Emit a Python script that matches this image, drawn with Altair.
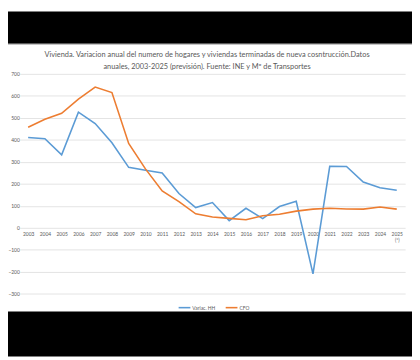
import altair as alt
import pandas as pd

years = [str(y) for y in range(2003, 2026)]
variac_hh = [411, 405, 332, 526, 474, 387, 275, 262, 249, 156, 92, 115, 33, 89, 42, 97, 121, -209, 280, 279, 208, 182, 171]
cfo = [457, 494, 521, 585, 640, 615, 384, 268, 168, 119, 64, 49, 43, 37, 55, 62, 76, 85, 89, 86, 85, 95, 85]
series_names = ["Variac. HH", "CFO"]
series_colors = ["#5B9BD5", "#ED7D31"]
title_lines = [
    "Vivienda. Variacion anual del numero de hogares y viviendas terminadas de nueva cosntrucción.Datos",
    "anuales, 2003-2025 (previsión). Fuente: INE y Mº de Transportes",
]

rows = []
for i, y in enumerate(years):
    rows.append({"year": y, "serie": series_names[0], "value": variac_hh[i]})
    rows.append({"year": y, "serie": series_names[1], "value": cfo[i]})
df = pd.DataFrame(rows)

FONT = "Lato"
GRAY = "#595959"
LEFT = 12
PLOT_W = 393
TOP = 63.7
PLOT_H = 224.3

x_enc = alt.X(
    "year:O",
    sort=years,
    scale=alt.Scale(type="point", padding=0.5),
    axis=alt.Axis(
        title=None, domain=False, ticks=False, grid=False, labelAngle=0,
        labelFontSize=5, labelColor=GRAY, labelFont=FONT, labelPadding=4,
        offset=-67.3, labelLineHeight=6,
        labelExpr="datum.value == '2025' ? ['2025', '(*)'] : datum.label",
    ),
)
y_enc = alt.Y(
    "value:Q",
    scale=alt.Scale(domain=[-300, 700], nice=False, zero=False),
    axis=alt.Axis(
        title=None, domain=False, ticks=False, values=list(range(-300, 701, 100)),
        grid=True, gridColor="#e3e3e3", gridWidth=1,
        labelFontSize=5, labelColor=GRAY, labelFont=FONT, labelPadding=0.5,
    ),
)

lines = alt.Chart(df).mark_line(strokeWidth=1.6).encode(
    x=x_enc,
    y=y_enc,
    color=alt.Color(
        "serie:N",
        sort=series_names,
        scale=alt.Scale(domain=series_names, range=series_colors),
        legend=alt.Legend(
            title=None, orient="none", legendX=173 - LEFT, legendY=231, direction="horizontal",
            symbolType="stroke", symbolSize=144, symbolStrokeWidth=1.6,
            labelFontSize=5, labelColor=GRAY, labelFont=FONT, columnPadding=6,
            symbolOffset=0, labelOffset=1,
        ),
    ),
    detail="serie:N",
)

band = alt.Chart(pd.DataFrame({"k": [0]}))
top_band = band.mark_rect(color="black").encode(
    x=alt.value(-LEFT), x2=alt.value(412 - LEFT), y=alt.value(-TOP), y2=alt.value(33 - TOP)
)
bottom_band = band.mark_rect(color="black").encode(
    x=alt.value(-LEFT), x2=alt.value(412 - LEFT), y=alt.value(306 - TOP), y2=alt.value(352 - TOP)
)
border = band.mark_rule(color="#b0b0b0", strokeWidth=1).encode(
    x=alt.value(-LEFT), x2=alt.value(412 - LEFT), y=alt.value(33.5 - TOP)
)
title1 = band.mark_text(
    fontSize=7.5, font=FONT, color=GRAY, align="center", baseline="middle"
).encode(x=alt.value(203 - LEFT), y=alt.value(44 - TOP), text=alt.value(title_lines[0]))
title2 = band.mark_text(
    fontSize=7.5, font=FONT, color=GRAY, align="center", baseline="middle"
).encode(x=alt.value(203 - LEFT), y=alt.value(57 - TOP), text=alt.value(title_lines[1]))

chart = alt.layer(top_band, bottom_band, border, title1, title2, lines).properties(
    width=PLOT_W,
    height=PLOT_H,
    padding={"left": LEFT, "top": TOP, "right": 412 - LEFT - PLOT_W, "bottom": 352 - TOP - PLOT_H},
    autosize=alt.AutoSizeParams(type="none"),
    background="white",
).configure_view(stroke=None)

chart.save("out.html", embed_options={"renderer": "svg", "actions": False})
